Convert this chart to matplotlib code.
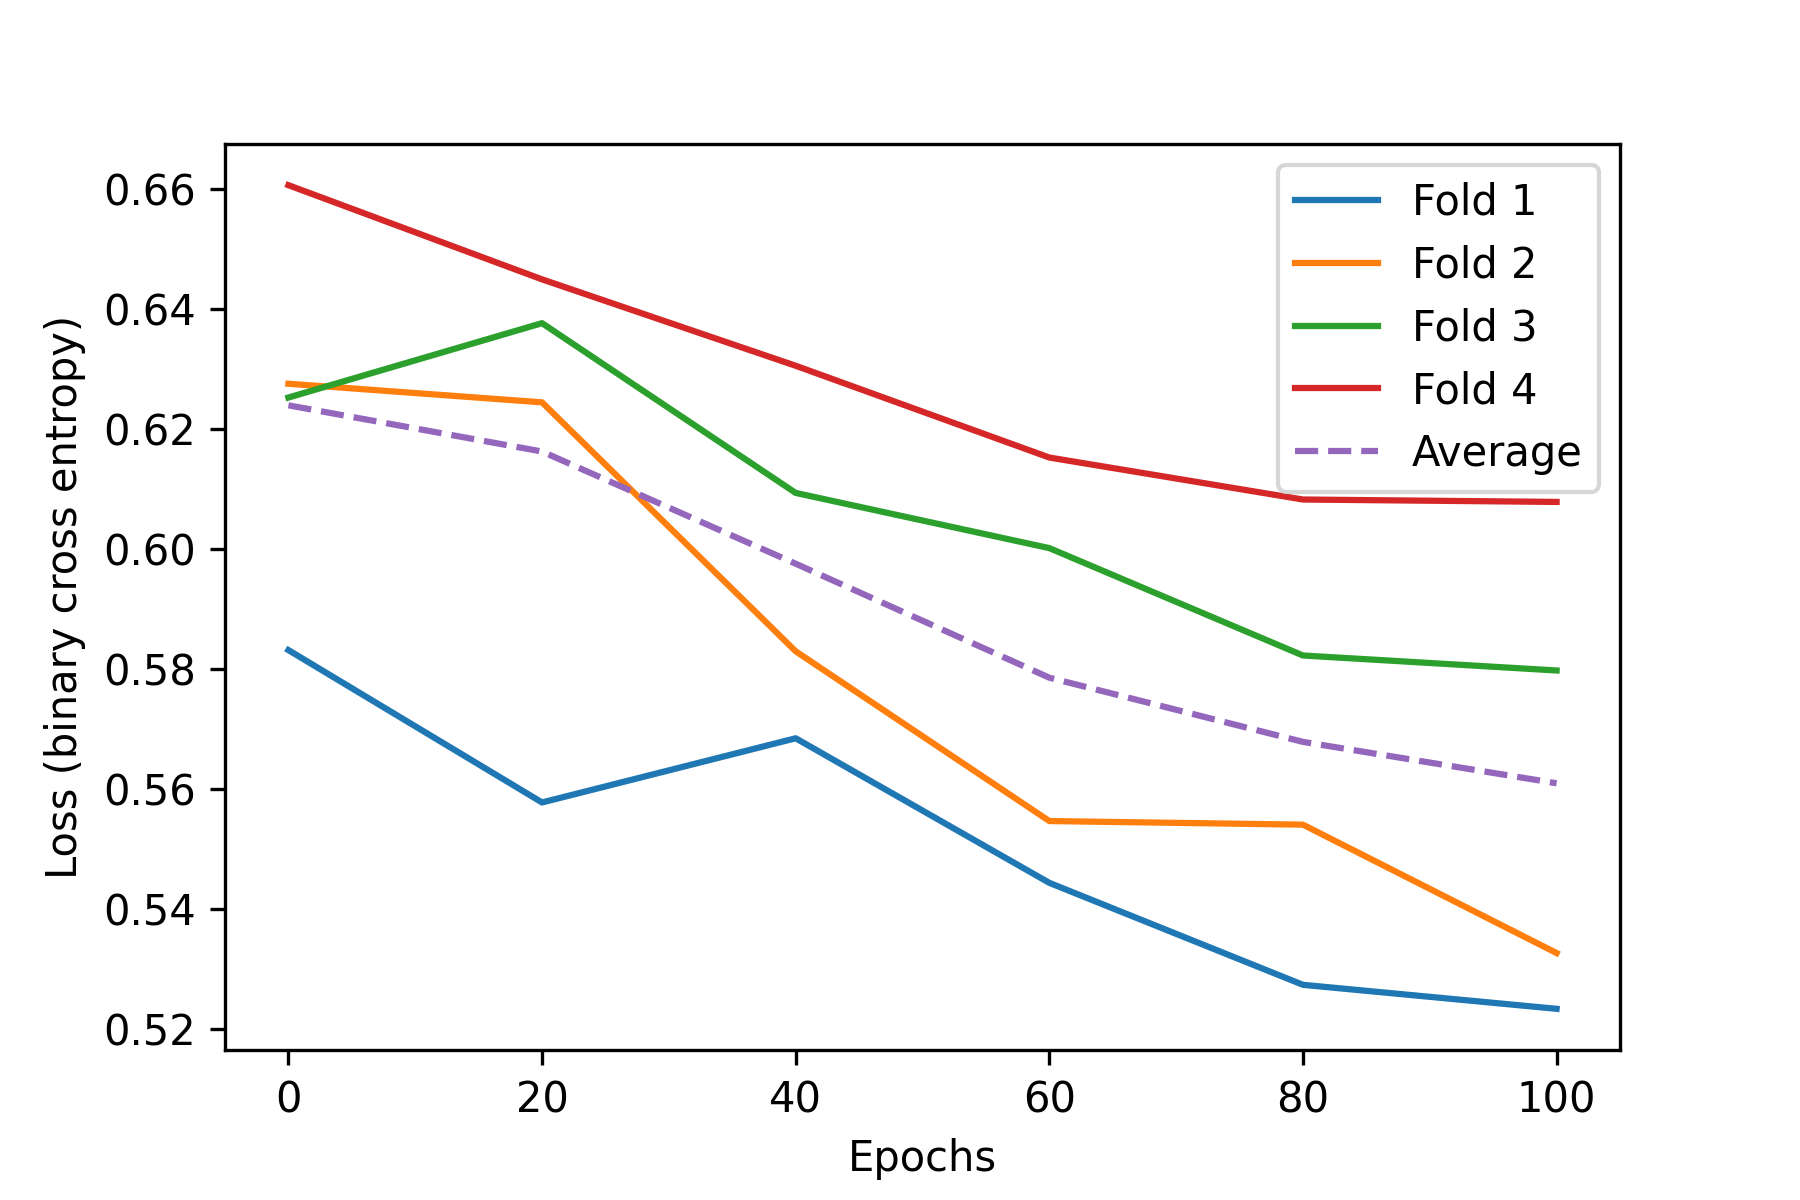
import matplotlib
matplotlib.use("Agg")
import matplotlib.pyplot as plt

epochs = [0, 20, 40, 60, 80, 100]

fold1 = [0.5831, 0.5577, 0.5684, 0.5443, 0.5273, 0.5233]
fold2 = [0.6275, 0.6244, 0.5829, 0.5546, 0.5540, 0.5326]
fold3 = [0.6252, 0.6376, 0.6093, 0.6001, 0.5822, 0.5797]
fold4 = [0.6606, 0.6449, 0.6305, 0.6152, 0.6082, 0.6078]
average = [0.6239, 0.6162, 0.5975, 0.5785, 0.5678, 0.5609]

fig, ax = plt.subplots(figsize=(6, 4), dpi=300)
fig.subplots_adjust(bottom=0.125)
ax.plot(epochs, fold1, label="Fold 1")
ax.plot(epochs, fold2, label="Fold 2")
ax.plot(epochs, fold3, label="Fold 3")
ax.plot(epochs, fold4, label="Fold 4")
ax.plot(epochs, average, "--", color="tab:purple", label="Average")
ax.set_xlabel("Epochs")
ax.set_ylabel("Loss (binary cross entropy)")
ax.legend(loc="upper right")

plt.savefig("out.png", dpi=300)
